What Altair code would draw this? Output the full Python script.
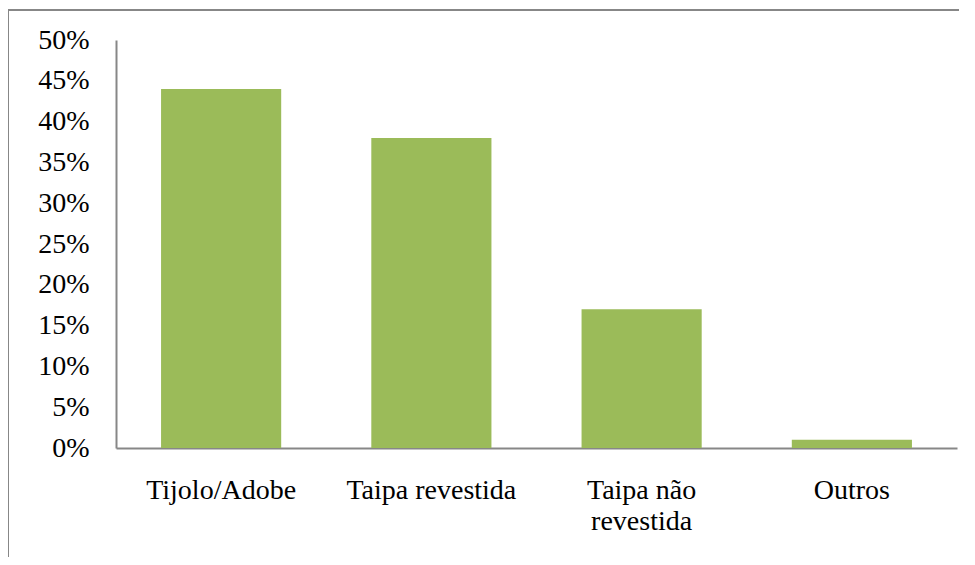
import altair as alt
import pandas as pd

categories = ["Tijolo/Adobe", "Taipa revestida", "Taipa não revestida", "Outros"]
values = [0.44, 0.38, 0.17, 0.01]
y_ticks = [0, 0.05, 0.10, 0.15, 0.20, 0.25, 0.30, 0.35, 0.40, 0.45, 0.50]

df = pd.DataFrame({"cat": categories, "val": values})

FONT = "Liberation Serif"
GRAY = "#878787"

bars = alt.Chart(df).mark_bar(color="#9BBB59").encode(
    x=alt.X(
        "cat:N",
        sort=categories,
        scale=alt.Scale(paddingInner=0.4286, paddingOuter=0.2143),
        axis=alt.Axis(
            title=None,
            labelAngle=0,
            ticks=False,
            domainColor=GRAY,
            domainWidth=2,
            labelFontSize=28,
            labelColor="black",
            labelPadding=28,
            labelLineHeight=31,
            labelExpr="datum.label == 'Taipa não revestida' ? ['Taipa não', 'revestida'] : datum.label",
        ),
    ),
    y=alt.Y(
        "val:Q",
        scale=alt.Scale(domain=[0, 0.5], nice=False),
        axis=alt.Axis(
            title=None,
            values=y_ticks,
            format=".0%",
            ticks=False,
            grid=False,
            domainColor=GRAY,
            domainWidth=2,
            labelFontSize=28,
            labelColor="black",
            labelPadding=27,
        ),
    ),
)

frame_df = pd.DataFrame({"k": [0]})
left_border = alt.Chart(frame_df).mark_rule(color=GRAY, strokeWidth=2).encode(
    x=alt.value(-108), y=alt.value(-30), y2=alt.value(520)
)
top_border = alt.Chart(frame_df).mark_rule(color=GRAY, strokeWidth=2).encode(
    x=alt.value(-108), x2=alt.value(860), y=alt.value(-30)
)

chart = alt.layer(bars, left_border, top_border).properties(
    width=841,
    height=408,
    autosize=alt.AutoSizeParams(type="none"),
    padding={"left": 108, "top": 32, "right": 2, "bottom": 109},
).configure(font=FONT).configure_axis(labelFont=FONT).configure_view(stroke=None)

chart.save("out.html", embed_options={"renderer": "svg", "actions": False})
